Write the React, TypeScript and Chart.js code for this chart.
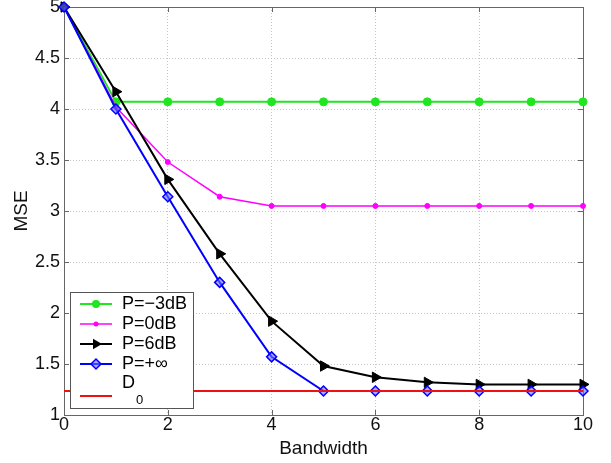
import React, { useEffect, useRef } from 'react';
import { Chart, registerables } from 'chart.js';

Chart.register(...registerables);

const bandwidth = [0, 1, 2, 3, 4, 5, 6, 7, 8, 9, 10];
const mseMinus3dB = [5, 4.07, 4.07, 4.07, 4.07, 4.07, 4.07, 4.07, 4.07, 4.07, 4.07];
const mse0dB = [5, 4.02, 3.48, 3.14, 3.05, 3.05, 3.05, 3.05, 3.05, 3.05, 3.05];
const mse6dB = [5, 4.17, 3.31, 2.58, 1.92, 1.48, 1.37, 1.32, 1.3, 1.3, 1.3];
const mseInf = [5, 4.0, 3.14, 2.3, 1.57, 1.235, 1.235, 1.235, 1.235, 1.235, 1.235];
const d0Values = [1.235, 1.235, 1.235, 1.235, 1.235, 1.235, 1.235, 1.235, 1.235, 1.235, 1.235];
const seriesNames = ['P=\u22123dB', 'P=0dB', 'P=6dB', 'P=+\u221E', 'D'];
const xTickValues = [0, 2, 4, 6, 8, 10];
const yTickValues = [1, 1.5, 2, 2.5, 3, 3.5, 4, 4.5, 5];

const FONT = "'Liberation Sans', Arial, Helvetica, sans-serif";
const GREEN = '#1fe61f';
const MAGENTA = '#ff00ff';
const BLACK = '#000000';
const BLUE = '#0000ff';
const RED = '#ee1111';

const toPts = (ys: number[]) => bandwidth.map((x, i) => ({ x, y: ys[i] }));

export default function App() {
  const ref = useRef<HTMLCanvasElement>(null);

  useEffect(() => {
    if (!ref.current) return;

    const framePlugin = {
      id: 'frame',
      beforeDatasetsDraw(chart: any) {
        const { ctx, chartArea: a } = chart;
        const xs = chart.scales.x;
        const ys = chart.scales.y;
        ctx.save();
        ctx.strokeStyle = '#666';
        ctx.lineWidth = 1;
        ctx.strokeRect(a.left + 0.5, a.top + 0.5, a.right - a.left, a.bottom - a.top);
        ctx.beginPath();
        xTickValues.forEach((v) => {
          const px = Math.round(xs.getPixelForValue(v)) + 0.5;
          ctx.moveTo(px, a.bottom);
          ctx.lineTo(px, a.bottom - 5);
          ctx.moveTo(px, a.top);
          ctx.lineTo(px, a.top + 5);
        });
        yTickValues.forEach((v) => {
          const py = Math.round(ys.getPixelForValue(v)) + 0.5;
          ctx.moveTo(a.left, py);
          ctx.lineTo(a.left + 5, py);
          ctx.moveTo(a.right, py);
          ctx.lineTo(a.right - 5, py);
        });
        ctx.stroke();
        ctx.restore();
      },
    };

    const legendPlugin = {
      id: 'matlabLegend',
      afterDraw(chart: any) {
        const { ctx } = chart;
        ctx.save();
        const bx = 70, by = 292, bw = 123, bh = 116;
        ctx.fillStyle = '#ffffff';
        ctx.fillRect(bx, by, bw, bh);
        ctx.strokeStyle = '#555';
        ctx.lineWidth = 1;
        ctx.strokeRect(bx + 0.5, by + 0.5, bw, bh);

        const rows = [304, 324, 344, 364, 396];
        const colors = [GREEN, MAGENTA, BLACK, BLUE, RED];
        const widths = [2, 1.5, 2, 2, 2];
        const x1 = 80, x2 = 112, cx = 96, tx = 122;
        rows.forEach((y, i) => {
          ctx.strokeStyle = colors[i];
          ctx.lineWidth = widths[i];
          ctx.beginPath();
          ctx.moveTo(x1, y);
          ctx.lineTo(x2, y);
          ctx.stroke();
          ctx.fillStyle = colors[i];
          if (i === 0) {
            ctx.beginPath();
            ctx.arc(cx, y, 4, 0, Math.PI * 2);
            ctx.fill();
          } else if (i === 1) {
            ctx.beginPath();
            ctx.arc(cx, y, 2.5, 0, Math.PI * 2);
            ctx.fill();
          } else if (i === 2) {
            const r = 6;
            ctx.beginPath();
            ctx.moveTo(cx + r, y);
            ctx.lineTo(cx - r / 2, y - r * 0.866);
            ctx.lineTo(cx - r / 2, y + r * 0.866);
            ctx.closePath();
            ctx.fill();
          } else if (i === 3) {
            const r = 5;
            ctx.beginPath();
            ctx.moveTo(cx, y - r);
            ctx.lineTo(cx + r, y);
            ctx.lineTo(cx, y + r);
            ctx.lineTo(cx - r, y);
            ctx.closePath();
            ctx.fillStyle = 'rgba(110,110,255,0.6)';
            ctx.fill();
            ctx.strokeStyle = BLUE;
            ctx.lineWidth = 1.5;
            ctx.stroke();
          }
          ctx.fillStyle = '#000';
          ctx.textBaseline = 'middle';
          ctx.textAlign = 'left';
          if (i < 4) {
            ctx.font = `18px ${FONT}`;
            ctx.fillText(seriesNames[i], tx, y);
          } else {
            ctx.font = `18px ${FONT}`;
            ctx.fillText(seriesNames[i], tx, 383);
            const w = ctx.measureText(seriesNames[i]).width;
            ctx.font = `13px ${FONT}`;
            ctx.fillText('0', tx + w + 1, 400);
          }
        });
        ctx.restore();
      },
    };

    const chart = new Chart(ref.current, {
      type: 'line',
      data: {
        datasets: [
          {
            label: seriesNames[0],
            data: toPts(mseMinus3dB),
            borderColor: GREEN,
            backgroundColor: GREEN,
            borderWidth: 2,
            pointStyle: 'circle',
            pointRadius: 4,
            pointBorderWidth: 1,
            order: 5,
            clip: false,
          },
          {
            label: seriesNames[1],
            data: toPts(mse0dB),
            borderColor: MAGENTA,
            backgroundColor: MAGENTA,
            borderWidth: 1.5,
            pointStyle: 'circle',
            pointRadius: 2.5,
            pointBorderWidth: 1,
            order: 4,
            clip: false,
          },
          {
            label: seriesNames[2],
            data: toPts(mse6dB),
            borderColor: BLACK,
            backgroundColor: BLACK,
            borderWidth: 2,
            pointStyle: 'triangle',
            rotation: 90,
            pointRadius: 6,
            pointBorderWidth: 1,
            order: 3,
            clip: false,
          },
          {
            label: seriesNames[3],
            data: toPts(mseInf),
            borderColor: BLUE,
            backgroundColor: 'rgba(110,110,255,0.6)',
            borderWidth: 2,
            pointStyle: 'rectRot',
            pointRadius: 5,
            pointBorderWidth: 1.5,
            order: 2,
            clip: false,
          },
          {
            label: 'D0',
            data: toPts(d0Values),
            borderColor: RED,
            backgroundColor: RED,
            borderWidth: 2,
            pointRadius: 0,
            order: 1,
            clip: false,
          },
        ],
      },
      options: {
        animation: false,
        responsive: false,
        events: [],
        layout: { padding: { top: 7, right: 28, left: 0, bottom: 0 } },
        plugins: { legend: { display: false }, tooltip: { enabled: false } },
        scales: {
          x: {
            type: 'linear',
            min: 0,
            max: 10,
            afterBuildTicks: (s: any) => {
              s.ticks = xTickValues.map((v) => ({ value: v }));
            },
            afterFit: (s: any) => {
              s.height = 48;
              s.paddingLeft = 0;
              s.paddingRight = 0;
            },
            grid: {
              color: (c: any) => (c.tick && (c.tick.value === 0 || c.tick.value === 10) ? 'rgba(0,0,0,0)' : '#c4c4c4'),
              lineWidth: 1,
              drawTicks: false,
            },
            border: { display: false, dash: [1, 2] },
            ticks: {
              color: '#111',
              padding: 1,
              maxRotation: 0,
              autoSkip: false,
              font: { family: FONT, size: 18, lineHeight: 1 },
            },
            title: {
              display: true,
              text: 'Bandwidth',
              color: '#111',
              font: { family: FONT, size: 19, lineHeight: 1.2 },
              padding: { top: 0, bottom: 3 },
            },
          },
          y: {
            type: 'linear',
            min: 1,
            max: 5,
            afterBuildTicks: (s: any) => {
              s.ticks = yTickValues.map((v) => ({ value: v }));
            },
            afterFit: (s: any) => {
              s.width = 64;
              s.paddingTop = 0;
              s.paddingBottom = 0;
            },
            grid: {
              color: (c: any) => (c.tick && (c.tick.value === 1 || c.tick.value === 5) ? 'rgba(0,0,0,0)' : '#c4c4c4'),
              lineWidth: 1,
              drawTicks: false,
            },
            border: { display: false, dash: [1, 2] },
            ticks: {
              color: '#111',
              padding: 4,
              autoSkip: false,
              font: { family: FONT, size: 18, lineHeight: 1 },
              callback: (v: any) => String(v),
            },
            title: {
              display: true,
              text: 'MSE',
              color: '#111',
              font: { family: FONT, size: 19, lineHeight: 1.2 },
              padding: { top: 10, bottom: 0 },
            },
          },
        },
      },
      plugins: [framePlugin, legendPlugin],
    } as any);

    return () => chart.destroy();
  }, []);

  return (
    <canvas
      ref={ref}
      width={611}
      height={463}
      style={{ position: 'absolute', left: 0, top: 0, width: 611, height: 463, background: '#fff' }}
    />
  );
}
